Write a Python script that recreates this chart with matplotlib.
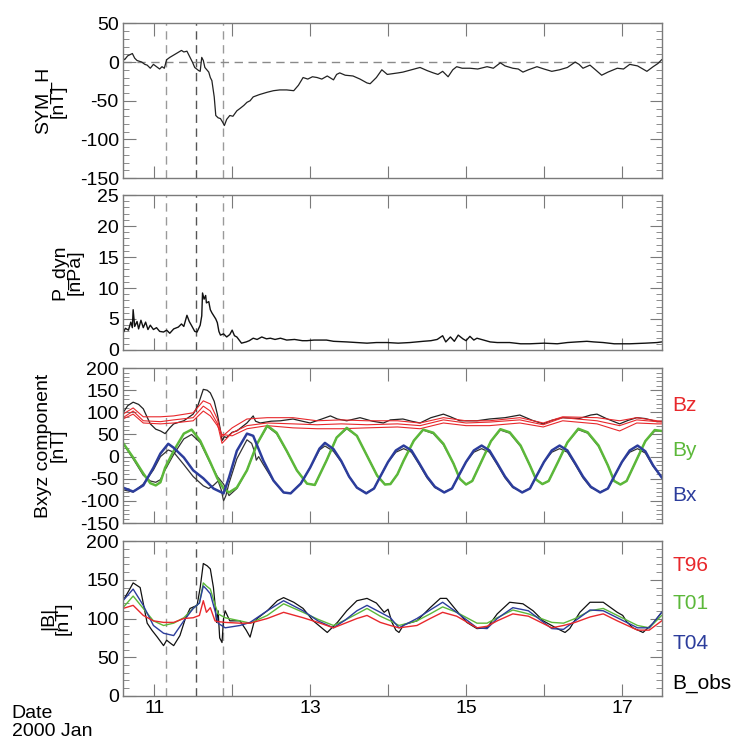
import numpy as np
import matplotlib
matplotlib.use("Agg")
import matplotlib.pyplot as plt
from matplotlib import ticker

plt.rcParams['font.family'] = ['Liberation Sans', 'DejaVu Sans']
plt.rcParams['axes.unicode_minus'] = False

# ---- data (time in days of 2000 Jan) ----
event_days = [11.15, 11.54, 11.885]

symh_t = [10.60, 10.62, 10.66, 10.72, 10.75, 10.78, 10.84, 10.88, 10.91, 10.95, 10.99, 11.03, 11.07,
          11.10, 11.13, 11.16, 11.20, 11.25, 11.30, 11.35, 11.38, 11.42, 11.46, 11.49, 11.52, 11.57,
          11.59, 11.61, 11.63, 11.65, 11.70, 11.72, 11.74, 11.77, 11.79, 11.82, 11.85, 11.88, 11.90,
          11.93, 11.97, 12.01, 12.06, 12.10, 12.15, 12.19, 12.23, 12.27, 12.35, 12.45, 12.53, 12.61,
          12.70, 12.79, 12.85, 12.91, 12.97, 13.03, 13.09, 13.15, 13.22, 13.30, 13.34, 13.38, 13.45,
          13.55, 13.64, 13.73, 13.77, 13.85, 13.92, 13.99, 14.06, 14.13, 14.19, 14.30, 14.41, 14.50,
          14.58, 14.64, 14.70, 14.77, 14.83, 14.88, 14.95, 15.05, 15.15, 15.27, 15.35, 15.44, 15.50,
          15.60, 15.67, 15.73, 15.80, 15.91, 16.00, 16.10, 16.20, 16.30, 16.40, 16.45, 16.50, 16.59,
          16.66, 16.74, 16.82, 16.94, 17.02, 17.10, 17.20, 17.32, 17.40, 17.46, 17.51]
symh = [5, 3, 8, 11, 5, 2, 0, -3, -4, -8, -3, -6, -9,
        -6, -8, 3, 6, 9, 12, 15, 13, 14, 6, 0, -7, -11,
        -12, 6, 2, -7, -13, -20, -24, -45, -69, -72, -73, -78, -82,
        -74, -69, -70, -63, -60, -56, -52, -50, -45, -42, -39, -37, -36,
        -36, -37, -30, -20, -22, -19, -20, -22, -18, -23, -16, -14, -17,
        -18, -22, -27, -28, -20, -10, -16, -15, -14, -13, -10, -7, -11,
        -14, -16, -12, -19, -10, -6, -8, -8, -9, -6, -8, -1, -5,
        -8, -9, -13, -10, -6, -9, -12, -10, -7, 0, -3, -8, -4,
        -10, -17, -13, -8, -9, -3, -5, -12, -6, -2, 3]

pdyn_t = [10.60, 10.63, 10.67, 10.70, 10.72, 10.73, 10.75, 10.78, 10.80, 10.83, 10.86, 10.89, 10.92,
          10.95, 10.99, 11.03, 11.07, 11.12, 11.16, 11.20, 11.25, 11.31, 11.35, 11.38, 11.42, 11.45,
          11.49, 11.52, 11.55, 11.59, 11.61, 11.62, 11.64, 11.66, 11.67, 11.70, 11.72, 11.74, 11.77,
          11.79, 11.81, 11.83, 11.85, 11.89, 11.93, 11.97, 12.00, 12.03, 12.06, 12.09, 12.12, 12.18,
          12.22, 12.27, 12.32, 12.38, 12.44, 12.49, 12.55, 12.62, 12.70, 12.80, 12.90, 12.96, 13.05,
          13.21, 13.30, 13.47, 13.60, 13.73, 13.85, 13.99, 14.13, 14.28, 14.45, 14.55, 14.63, 14.70,
          14.74, 14.80, 14.85, 14.90, 14.96, 15.00, 15.05, 15.10, 15.14, 15.31, 15.40, 15.56, 15.70,
          15.82, 16.00, 16.17, 16.30, 16.42, 16.55, 16.64, 16.76, 16.90, 17.10, 17.30, 17.45, 17.51]
pdyn = [2.7, 3.5, 3.2, 4.5, 3.6, 6.5, 3.8, 4.6, 3.4, 4.8, 3.6, 4.5, 3.3,
        4.0, 3.3, 3.6, 3.0, 2.9, 3.2, 2.7, 3.4, 3.7, 4.2, 3.8, 5.6, 4.6,
        3.7, 3.0, 2.9, 4.0, 5.5, 9.2, 8.2, 8.8, 7.6, 7.8, 6.5, 6.0, 5.4,
        5.0, 4.4, 3.0, 2.4, 2.6, 2.1, 2.5, 3.2, 2.3, 2.1, 1.6, 1.1, 1.3,
        1.5, 1.9, 1.7, 2.1, 1.8, 1.9, 1.7, 1.9, 1.6, 1.7, 1.5, 1.5, 1.6,
        1.6, 1.4, 1.3, 1.2, 1.1, 1.2, 1.2, 1.1, 1.2, 1.4, 1.5, 1.7, 2.3,
        1.3, 2.1, 1.4, 2.4, 1.8, 1.5, 2.2, 1.6, 1.9, 1.3, 1.2, 1.2, 1.0,
        1.0, 1.1, 1.0, 1.2, 1.3, 1.4, 1.3, 1.2, 1.0, 1.0, 1.1, 1.2, 1.3]

# Bz: observed and the three models
bz_obs_t = [10.60, 10.66, 10.73, 10.80, 10.86, 10.95, 11.02, 11.08, 11.14, 11.20, 11.25, 11.38, 11.50,
            11.56, 11.63, 11.68, 11.72, 11.77, 11.81, 11.85, 11.87, 11.90, 11.93, 12.00, 12.06, 12.19,
            12.27, 12.30, 12.36, 12.50, 12.62, 12.78, 12.90, 13.00, 13.15, 13.26, 13.35, 13.47, 13.64,
            13.80, 13.94, 14.03, 14.19, 14.30, 14.41, 14.55, 14.71, 14.80, 14.92, 15.14, 15.30, 15.50,
            15.69, 15.85, 15.99, 16.10, 16.24, 16.45, 16.60, 16.68, 16.80, 16.97, 17.08, 17.19, 17.30,
            17.45, 17.51]
bz_obs = [99, 115, 123, 118, 108, 74, 62, 58, 52, 65, 74, 81, 96,
          115, 152, 150, 144, 125, 96, 60, 36, 45, 43, 55, 58, 76,
          92, 80, 76, 80, 81, 85, 80, 76, 85, 92, 85, 81, 88,
          80, 76, 83, 85, 80, 76, 88, 96, 90, 81, 81, 85, 88,
          94, 82, 74, 82, 88, 86, 94, 96, 86, 74, 82, 88, 86,
          79, 80]
bz_mod_t = [10.60, 10.73, 10.86, 11.08, 11.25, 11.50, 11.63, 11.72, 11.81, 11.87, 12.00, 12.19, 12.45,
            12.78, 13.09, 13.40, 13.73, 14.12, 14.41, 14.71, 15.00, 15.30, 15.69, 15.99, 16.24, 16.68,
            16.97, 17.19, 17.45, 17.51]
bz_t96 = [96, 110, 90, 90, 92, 99, 126, 119, 85, 45, 65, 85, 88,
          88, 81, 83, 81, 81, 76, 88, 81, 81, 88, 76, 90, 88,
          81, 88, 81, 80]
bz_t01 = [88, 103, 81, 79, 83, 88, 114, 103, 75, 30, 54, 70, 76,
          74, 72, 74, 72, 74, 70, 83, 76, 78, 83, 72, 88, 81,
          70, 83, 79, 78]
bz_t04 = [85, 96, 76, 74, 76, 81, 103, 92, 70, 50, 47, 63, 70,
          65, 63, 63, 65, 67, 63, 76, 70, 70, 76, 67, 81, 74,
          58, 76, 74, 74]

# By: models (bundle) and observed
by_t = [10.60, 10.73, 10.86, 10.95, 11.02, 11.08, 11.14, 11.25, 11.38, 11.48, 11.59, 11.72, 11.81,
        11.89, 11.96, 12.06, 12.19, 12.32, 12.45, 12.57, 12.70, 12.83, 12.96, 13.06, 13.21, 13.34,
        13.47, 13.60, 13.73, 13.86, 13.96, 14.03, 14.12, 14.20, 14.33, 14.45, 14.58, 14.71, 14.84,
        14.92, 15.00, 15.08, 15.20, 15.32, 15.44, 15.56, 15.70, 15.82, 15.90, 15.98, 16.06, 16.18,
        16.30, 16.44, 16.56, 16.70, 16.82, 16.90, 16.98, 17.06, 17.18, 17.30, 17.42, 17.51]
by_mod = [31, -2, -38, -60, -65, -58, -25, 13, 52, 61, 36, -13, -49,
          -72, -81, -70, -31, 29, 70, 54, 13, -31, -61, -64, -9, 43,
          65, 47, 2, -43, -63, -62, -40, -9, 36, 61, 54, 29, -16,
          -50, -63, -55, -10, 35, 62, 55, 25, -20, -52, -62, -55, -12,
          32, 63, 55, 25, -20, -55, -63, -55, -10, 35, 60, 58]
by_obs = [30, -5, -42, -55, -58, -52, -30, 5, 40, 50, 32, -15, -45,
          -62, -88, -72, -31, 29, 68, 52, 12, -31, -61, -64, -9, 43,
          63, 47, 2, -43, -63, -62, -40, -9, 36, 60, 52, 27, -16,
          -50, -63, -55, -10, 35, 60, 53, 23, -20, -52, -62, -55, -12,
          32, 61, 53, 23, -20, -55, -63, -55, -10, 35, 58, 58]

# Bx: models (bundle) and observed
bx_t = [10.60, 10.73, 10.86, 10.99, 11.08, 11.18, 11.25, 11.38, 11.50, 11.63, 11.76, 11.89, 11.96,
        12.06, 12.19, 12.27, 12.40, 12.53, 12.66, 12.75, 12.88, 13.00, 13.12, 13.19, 13.30, 13.40,
        13.50, 13.60, 13.72, 13.82, 13.90, 14.00, 14.10, 14.20, 14.30, 14.40, 14.50, 14.60, 14.72,
        14.82, 14.90, 15.00, 15.10, 15.20, 15.30, 15.40, 15.50, 15.60, 15.72, 15.82, 15.90, 16.00,
        16.10, 16.20, 16.30, 16.40, 16.50, 16.60, 16.72, 16.82, 16.90, 17.00, 17.10, 17.20, 17.30,
        17.40, 17.51]
bx_mod = [-70, -79, -65, -25, 7, 29, 20, -2, -31, -49, -72, -83, -47,
          13, 52, 47, -9, -54, -81, -83, -61, -25, 18, 31, 17, -10,
          -45, -70, -83, -72, -45, -12, 14, 25, 14, -15, -45, -68, -81,
          -72, -45, -12, 14, 25, 14, -15, -45, -68, -81, -72, -45, -12,
          14, 25, 14, -15, -45, -68, -81, -72, -45, -12, 14, 25, 12,
          -20, -47]
bx_obs_t = [10.60, 10.73, 10.86, 10.99, 11.08, 11.18, 11.25, 11.38, 11.50, 11.63, 11.70, 11.76, 11.82,
            11.86, 11.89, 11.92, 11.96, 12.06, 12.19, 12.25, 12.29, 12.31, 12.34, 12.40, 12.53, 12.66,
            12.75, 12.88, 13.00, 13.12, 13.19, 13.30, 13.40, 13.50, 13.60, 13.72, 13.82, 13.90, 14.00,
            14.10, 14.20, 14.30, 14.40, 14.50, 14.60, 14.72, 14.82, 14.90, 15.00, 15.10, 15.20, 15.30,
            15.40, 15.50, 15.60, 15.72, 15.82, 15.90, 16.00, 16.10, 16.20, 16.30, 16.40, 16.50, 16.60,
            16.72, 16.82, 16.90, 17.00, 17.10, 17.20, 17.30, 17.40, 17.51]
bx_obs = [-75, -80, -62, -30, 0, 15, 10, -18, -45, -66, -72, -65, -55,
          -75, -100, -88, -60, -5, 38, 30, 10, -8, 0, -18, -55, -81,
          -83, -61, -25, 15, 24, 12, -12, -45, -70, -82, -72, -45, -12,
          10, 18, 10, -18, -48, -70, -80, -72, -45, -12, 10, 18, 10,
          -18, -48, -70, -80, -72, -45, -12, 10, 18, 10, -18, -48, -70,
          -80, -72, -45, -12, 10, 18, 8, -22, -47]

# |B|: three models and observation
bt_mod_t = [10.60, 10.73, 10.86, 10.99, 11.12, 11.25, 11.38, 11.50, 11.58, 11.63, 11.67, 11.72, 11.78,
            11.82, 11.91, 12.10, 12.23, 12.45, 12.66, 12.91, 13.10, 13.30, 13.45, 13.60, 13.73, 13.90,
            14.03, 14.14, 14.37, 14.54, 14.70, 14.88, 15.14, 15.27, 15.40, 15.60, 15.80, 16.10, 16.25,
            16.40, 16.59, 16.76, 16.94, 17.20, 17.35, 17.51]
bt_t04 = [123, 138, 117, 91, 81, 78, 97, 113, 120, 142, 138, 132, 110,
          94, 88, 91, 95, 110, 123, 110, 97, 88, 98, 110, 117, 108,
          101, 88, 100, 111, 121, 108, 88, 87, 100, 114, 110, 87, 86,
          97, 111, 110, 101, 88, 88, 108]
bt_t01 = [114, 129, 113, 97, 91, 94, 101, 113, 120, 146, 142, 138, 118,
          106, 101, 97, 94, 104, 119, 108, 99, 91, 98, 106, 113, 103,
          97, 91, 97, 106, 115, 108, 94, 94, 101, 111, 106, 95, 94,
          100, 110, 113, 104, 91, 88, 104]
bt_t96 = [113, 117, 104, 97, 95, 95, 100, 101, 104, 123, 108, 114, 97,
          96, 95, 94, 94, 100, 108, 101, 95, 88, 94, 100, 104, 95,
          91, 88, 91, 100, 108, 103, 88, 90, 97, 106, 103, 88, 91,
          95, 102, 106, 97, 85, 85, 97]
bt_obs_t = [10.60, 10.67, 10.73, 10.82, 10.91, 10.97, 11.04, 11.12, 11.16, 11.21, 11.25, 11.33, 11.40,
            11.46, 11.55, 11.59, 11.63, 11.68, 11.72, 11.76, 11.78, 11.80, 11.82, 11.84, 11.87, 11.89,
            11.91, 11.97, 12.10, 12.18, 12.23, 12.28, 12.32, 12.45, 12.58, 12.66, 12.79, 12.91, 13.04,
            13.22, 13.35, 13.47, 13.60, 13.73, 13.85, 13.95, 14.00, 14.05, 14.10, 14.14, 14.20, 14.37,
            14.54, 14.67, 14.75, 14.88, 15.01, 15.14, 15.27, 15.40, 15.56, 15.73, 15.86, 15.99, 16.17,
            16.27, 16.33, 16.46, 16.59, 16.76, 16.94, 17.01, 17.06, 17.14, 17.27, 17.40, 17.51]
bt_obs = [123, 135, 146, 140, 94, 85, 76, 65, 72, 68, 65, 78, 100,
          113, 117, 140, 171, 168, 164, 140, 119, 95, 110, 75, 69, 100,
          110, 97, 97, 85, 76, 95, 100, 110, 123, 127, 121, 113, 97,
          82, 95, 110, 123, 126, 120, 108, 112, 95, 85, 82, 92, 97,
          114, 126, 126, 110, 95, 87, 88, 106, 121, 119, 110, 97, 87,
          82, 87, 108, 121, 121, 108, 104, 96, 88, 82, 94, 108]

RED = '#e8282c'
GREEN = '#5cb83a'
BLUE = '#2c3d9c'
FRAME = '#7a7a7a'

fig = plt.figure(figsize=(7.41, 7.52), dpi=100)
left, width, height = 0.166, 0.727, 0.206
bottoms = [0.763, 0.5346, 0.3045, 0.0745]
axes = [fig.add_axes([left, b, width, height]) for b in bottoms]

ylims = [(-150, 50), (0, 25), (-150, 200), (0, 200)]
ymaj = [50, 5, 50, 50]
ymin = [10, 1, 10, 10]
ylabels = ["SYM_H\n[nT]", "P_dyn\n[nPa]", "Bxyz component\n[nT]", "|B|\n[nT]"]
label_x = [-0.104, -0.074, -0.104, -0.095]

for i, ax in enumerate(axes):
    ax.set_xlim(10.6, 17.51)
    ax.set_ylim(*ylims[i])
    ax.xaxis.set_major_locator(ticker.MultipleLocator(1))
    ax.yaxis.set_major_locator(ticker.MultipleLocator(ymaj[i]))
    ax.yaxis.set_minor_locator(ticker.MultipleLocator(ymin[i]))
    ax.tick_params(which='both', direction='in', top=True, right=True, color=FRAME,
                   labelsize=14, pad=3)
    ax.tick_params(which='major', length=9)
    ax.tick_params(which='minor', length=4.5)
    for sp in ax.spines.values():
        sp.set_color(FRAME)
        sp.set_linewidth(1.0)
    ax.set_ylabel(ylabels[i], fontsize=14, linespacing=0.82)
    ax.yaxis.set_label_coords(label_x[i], 0.5)
    for j, d in enumerate(event_days):
        ax.axvline(d, color='#555555' if j == 1 else '#9a9a9a', lw=1.0,
                   dashes=(6, 4), zorder=1)
    if i < 3:
        ax.set_xticklabels([])
    else:
        ax.xaxis.set_major_formatter(ticker.FuncFormatter(
            lambda v, p: "%d" % round(v) if round(v) % 2 == 1 else ""))

# SYM-H
ax = axes[0]
ax.axhline(0, color='#8a8a8a', lw=1.0, dashes=(6, 4), zorder=1)
ax.plot(symh_t, symh, color='#222222', lw=0.9)

# dynamic pressure
axes[1].plot(pdyn_t, pdyn, color='#111111', lw=1.0)

# field components
ax = axes[2]
ax.plot(bz_obs_t, bz_obs, color='#222222', lw=0.9)
ax.plot(bx_obs_t, bx_obs, color='#333333', lw=0.9)
ax.plot(by_t, by_obs, color='#333333', lw=0.9)
for arr in (bz_t96, bz_t01, bz_t04):
    ax.plot(bz_mod_t, arr, color=RED, lw=0.8)
ax.plot(by_t, by_mod, color=GREEN, lw=1.8)
ax.plot(bx_t, bx_mod, color=BLUE, lw=1.8)
for name, yy, col in [("Bz", 0.756, RED), ("By", 0.468, GREEN), ("Bx", 0.179, BLUE)]:
    ax.text(1.02, yy, name, color=col, fontsize=15, transform=ax.transAxes,
            ha='left', va='center')

# total field
ax = axes[3]
ax.plot(bt_obs_t, bt_obs, color='#111111', lw=0.9)
ax.plot(bt_mod_t, bt_t01, color=GREEN, lw=1.0)
ax.plot(bt_mod_t, bt_t04, color=BLUE, lw=1.0)
ax.plot(bt_mod_t, bt_t96, color=RED, lw=1.0)
for name, yy, col in [("T96", 0.84, RED), ("T01", 0.596, GREEN), ("T04", 0.34, BLUE),
                      ("B_obs", 0.083, 'black')]:
    ax.text(1.02, yy, name, color=col, fontsize=15, transform=ax.transAxes,
            ha='left', va='center')

fig.text(0.016, 1 - 714 / 752, "Date", fontsize=14, va='center', ha='left')
fig.text(0.016, 1 - 731 / 752, "2000 Jan", fontsize=14, va='center', ha='left')

fig.savefig("out.png", dpi=100)
